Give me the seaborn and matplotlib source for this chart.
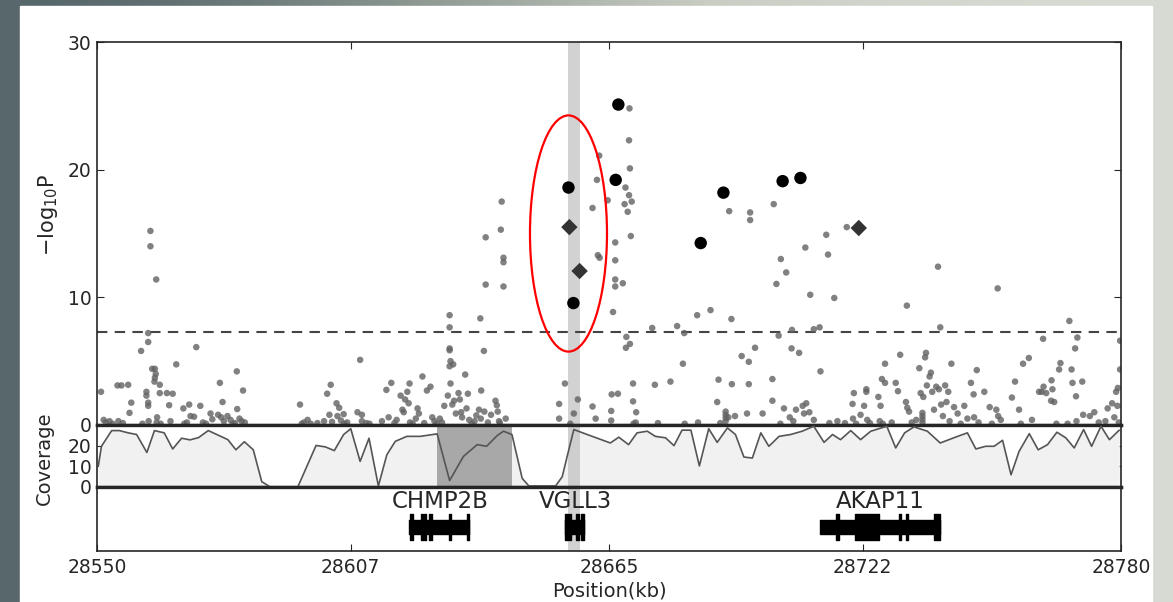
import numpy as np
import pandas as pd
import seaborn as sns
import matplotlib.pyplot as plt
from matplotlib.patches import Ellipse, Rectangle
from matplotlib.colors import LinearSegmentedColormap

# association results: position (kb) and -log10 P
snp_pos = [
    28550.9, 28551.5, 28552.0, 28552.8, 28553.5, 28554.6, 28555.5, 28554.8, 28555.8, 28557.0,
    28557.3, 28557.7, 28559.9, 28560.2, 28561.1, 28561.1, 28561.5, 28561.5, 28561.5, 28561.5,
    28561.6, 28562.0, 28562.0, 28562.4, 28563.0, 28563.2, 28563.0, 28562.9, 28563.3, 28563.4,
    28563.5, 28564.1, 28564.1, 28564.3, 28565.7, 28566.2, 28566.5, 28567.0, 28567.8, 28569.4,
    28569.6, 28570.2, 28570.7, 28571.0, 28571.8, 28572.3, 28573.2, 28573.8, 28574.5, 28575.5,
    28575.9, 28577.6, 28577.2, 28577.9, 28578.2, 28578.5, 28579.3, 28580.0, 28580.5, 28581.0,
    28581.4, 28581.5, 28582.0, 28582.8, 28582.5, 28583.2,
    28595.6, 28596.0, 28596.5, 28597.3, 28598.0, 28599.5, 28601.0, 28601.7, 28602.5, 28602.2,
    28602.8, 28603.8, 28604.4, 28604.0, 28604.8, 28605.4, 28605.6, 28606.2, 28608.5, 28609.1,
    28609.5, 28609.5, 28610.5, 28611.2,
    28614.0, 28615.0, 28615.5, 28616.1, 28616.8, 28617.3, 28618.2, 28618.6, 28618.9, 28619.2,
    28619.7, 28620.0, 28620.2, 28620.3, 28620.9, 28621.6, 28622.0, 28622.3, 28623.1, 28623.5,
    28624.1, 28624.9, 28625.3, 28625.8, 28626.3, 28627.0, 28627.5, 28628.0, 28628.8, 28629.2,
    28629.2, 28629.2, 28629.2, 28629.4, 28630.0, 28629.2, 28629.4, 28629.8, 28630.2, 28630.6,
    28631.2, 28631.5, 28631.8, 28632.0, 28632.7, 28633.3, 28633.0, 28633.6, 28634.2, 28634.8,
    28635.2, 28635.8, 28636.1, 28636.3, 28636.2, 28636.9, 28637.3, 28637.3, 28637.0, 28637.8,
    28638.5, 28639.5, 28639.8, 28640.0, 28640.3, 28640.9, 28640.7, 28641.3, 28641.3, 28641.3,
    28640.5, 28641.8,
    28653.8, 28653.8, 28655.1, 28656.3, 28657.1, 28658.0, 28661.3, 28662.0, 28661.3, 28662.3,
    28662.8, 28662.5, 28662.9, 28664.7, 28665.6, 28665.5, 28665.5, 28665.9, 28666.4, 28666.4,
    28666.4, 28666.4, 28667.0, 28668.1, 28668.5, 28668.7, 28668.8, 28668.9, 28669.2, 28669.5,
    28669.5, 28669.6, 28669.7, 28669.7, 28669.9, 28670.4, 28670.1, 28670.4, 28671.1, 28670.5,
    28671.0,
    28674.7, 28675.3, 28676.0, 28678.8, 28680.3, 28681.6, 28681.9, 28682.0, 28684.8, 28685.0,
    28687.8, 28689.6, 28689.3, 28690.0, 28691.2, 28691.2, 28691.2, 28691.2, 28691.8, 28692.0,
    28692.5, 28692.6, 28693.3, 28694.8, 28696.0, 28696.4, 28696.4, 28696.7, 28696.7, 28697.8,
    28699.5, 28701.7, 28701.7, 28702.0, 28702.6, 28703.1, 28703.6, 28704.8, 28703.5, 28704.3,
    28706.0, 28706.1, 28707.7, 28705.6, 28706.4, 28707.0, 28708.5, 28709.1, 28708.8, 28709.3,
    28710.2, 28710.0, 28711.0, 28711.0, 28712.3, 28712.5, 28713.8, 28714.2, 28714.5, 28715.6,
    28716.3, 28718.0, 28718.4, 28719.7, 28720.0, 28719.8, 28720.5, 28722.8, 28722.8, 28722.3,
    28721.5,
    28723.0, 28723.6, 28725.5, 28726.0, 28726.3, 28727.0, 28727.0, 28725.8, 28726.5, 28728.5,
    28729.4, 28729.9, 28730.4, 28731.7, 28731.9, 28732.0, 28732.4, 28733.0, 28734.0, 28734.7,
    28735.0, 28735.4, 28735.4, 28735.4, 28735.4, 28735.6, 28736.0, 28736.2, 28736.4, 28737.0,
    28737.3, 28737.6, 28738.0, 28738.5, 28738.9, 28739.1, 28739.4, 28739.6, 28740.0, 28740.5,
    28740.8, 28741.2, 28741.9, 28741.5, 28742.5, 28743.3, 28744.0, 28744.8, 28745.5, 28746.3,
    28746.9, 28747.0, 28747.6, 28748.0, 28749.3, 28750.5, 28751.0, 28752.3, 28752.0, 28752.4,
    28753.0, 28755.5, 28756.2, 28757.1, 28758.0, 28759.3, 28757.5, 28760.0, 28761.6, 28762.2,
    28762.5, 28762.6, 28763.2, 28764.3, 28764.4, 28764.6, 28765.0, 28765.5, 28766.1, 28766.4,
    28768.0, 28768.4, 28768.9, 28769.1, 28769.7, 28769.9, 28770.2, 28770.0, 28771.3, 28771.5,
    28773.0, 28774.0, 28775.0, 28776.5, 28777.0, 28778.0, 28778.5, 28778.9, 28779.3, 28779.8,
    28779.8, 28779.5, 28779.2,
]
snp_logp = [
    2.6, 0.4, 0.2, 0.3, 0.1, 3.1, 3.1, 0.3, 0.15, 3.15,
    0.95, 1.75, 5.8, 0.1, 2.6, 2.3, 7.2, 6.5, 1.75, 1.5,
    0.3, 15.2, 14.0, 4.4, 4.4, 4.0, 3.7, 3.4, 11.4, 0.2,
    0.6, 3.15, 2.5, 0.1, 2.5, 1.55, 0.3, 2.45, 4.75, 1.3,
    0.1, 0.2, 1.6, 0.7, 0.65, 6.1, 1.5, 0.2, 0.1, 0.9,
    0.45, 3.3, 0.8, 0.6, 1.8, 0.3, 0.7, 0.4, 0.1, 0.15,
    4.2, 1.25, 0.5, 2.7, 0.3, 0.2,
    1.6, 0.1, 0.2, 0.4, 0.1, 0.15, 0.3, 2.45, 3.15, 0.8,
    0.25, 1.7, 1.35, 0.7, 0.35, 0.85, 0.1, 0.2, 1.0, 5.1,
    0.8, 0.3, 0.15, 0.1,
    0.3, 2.75, 0.6, 3.3, 0.15, 0.4, 2.3, 1.2, 1.0, 2.0,
    2.6, 1.7, 3.25, 0.2, 0.1, 0.5, 1.3, 0.9, 3.8, 0.15,
    2.7, 3.0, 0.6, 0.3, 0.1, 0.5, 0.2, 1.5, 2.3, 8.6,
    7.65, 6.0, 5.85, 5.0, 4.75, 4.6, 3.25, 1.6, 1.9, 0.9,
    2.5, 2.0, 1.0, 0.6, 3.95, 2.45, 1.3, 0.4, 0.1, 0.3,
    0.75, 1.2, 8.35, 2.7, 0.5, 5.8, 14.7, 11.0, 1.05, 0.2,
    0.8, 1.9, 1.55, 1.05, 0.3, 17.5, 15.3, 13.1, 12.75, 10.85,
    0.15, 0.5,
    1.65, 0.5, 3.25, 0.1, 0.9, 2.0, 1.45, 0.5, 17.0, 19.2,
    21.1, 13.3, 13.1, 17.6, 2.4, 1.1, 0.35, 8.85, 14.3, 12.9,
    11.4, 10.85, 2.45, 11.1, 17.3, 18.6, 6.05, 6.9, 16.7, 18.0,
    22.3, 24.8, 20.1, 6.35, 14.8, 3.25, 17.5, 1.85, 1.0, 0.1,
    0.2,
    7.6, 3.15, 0.15, 3.4, 7.75, 4.8, 7.2, 0.1, 8.6, 0.2,
    9.0, 3.55, 1.8, 0.15, 0.3, 0.55, 0.8, 1.05, 0.6, 16.75,
    8.3, 3.2, 0.7, 5.4, 0.9, 4.95, 3.2, 16.65, 16.05, 6.05,
    0.9, 3.6, 1.9, 17.3, 11.05, 7.0, 13.0, 11.95, 0.1, 1.3,
    6.0, 7.45, 5.65, 0.6, 0.3, 1.2, 1.5, 13.9, 0.9, 1.7,
    10.2, 1.0, 7.5, 0.4, 7.65, 4.2, 14.9, 13.35, 0.15, 9.95,
    0.3, 0.15, 15.5, 1.65, 2.5, 0.5, 0.1, 2.8, 2.6, 1.5,
    0.8,
    0.4, 0.15, 2.2, 1.5, 3.6, 3.3, 4.8, 0.3, 0.1, 0.2,
    3.3, 2.65, 5.5, 1.8, 9.35, 1.35, 1.05, 0.2, 0.4, 4.45,
    2.5, 0.2, 0.45, 0.7, 0.95, 2.2, 5.3, 5.65, 3.1, 3.8,
    4.1, 2.6, 1.2, 3.0, 12.4, 2.8, 7.65, 1.6, 0.7, 3.1,
    1.8, 2.6, 4.8, 0.3, 1.4, 0.9, 0.1, 1.5, 0.5, 3.3,
    2.4, 0.6, 4.3, 0.2, 2.6, 1.4, 0.1, 10.7, 1.2, 0.7,
    0.4, 2.15, 3.4, 1.2, 4.8, 5.25, 0.1, 0.4, 2.6, 2.6,
    6.75, 3.0, 2.5, 1.9, 3.5, 2.8, 1.8, 0.1, 4.35, 4.85,
    0.1, 8.15, 4.35, 3.3, 6.0, 2.25, 6.85, 0.3, 3.4, 0.8,
    0.7, 1.0, 0.2, 0.3, 1.3, 1.7, 0.6, 2.6, 2.9, 4.35,
    6.6, 0.2, 1.5,
]

# highlighted variants
top_pos = [28655.9, 28657.0, 28667.1, 28666.5, 28685.6, 28690.7, 28704.0, 28708.0]
top_logp = [18.6, 9.55, 25.1, 19.2, 14.25, 18.2, 19.1, 19.35]
diamond_pos = [28656.1, 28658.4, 28721.1]
diamond_logp = [15.5, 12.06, 15.43]

# read coverage
cov_pos = [
    28550.3, 28551.0, 28553.3, 28555.0, 28557.0, 28558.9, 28561.2, 28562.9, 28565.1, 28567.0,
    28569.0, 28570.9, 28572.8, 28575.0, 28577.3, 28579.4, 28581.2, 28583.1, 28585.1, 28587.0,
    28588.1, 28588.9, 28595.1, 28599.2, 28601.3, 28603.3, 28605.4, 28607.0, 28609.1, 28611.1,
    28613.2, 28615.1, 28617.0, 28619.6, 28622.6, 28626.4, 28629.2, 28632.3, 28635.4, 28637.5,
    28639.9, 28641.3, 28643.2, 28645.5, 28647.0, 28653.0, 28654.5, 28655.6, 28657.1, 28660.1,
    28665.3, 28667.2, 28669.4, 28671.3, 28673.6, 28675.4, 28677.7, 28679.6, 28681.4, 28683.4,
    28685.3, 28687.4, 28689.3, 28691.6, 28693.4, 28695.3, 28697.2, 28699.1, 28700.9, 28703.2,
    28705.8, 28708.4, 28711.0, 28713.3, 28715.2, 28717.0, 28719.3, 28721.5, 28723.8, 28727.4,
    28729.4, 28731.4, 28733.5, 28736.5, 28739.4, 28743.3, 28745.5, 28747.4, 28749.6, 28751.5,
    28753.4, 28755.3, 28757.1, 28759.4, 28761.4, 28763.5, 28765.6, 28767.6, 28769.5, 28771.6,
    28773.4, 28775.5, 28777.4, 28779.6,
]
cov_val = [
    10.2, 19.7, 27.3, 27.3, 26.2, 25.4, 16.7, 27.3, 26.2, 18.4,
    23.6, 22.8, 23.9, 27.3, 25.0, 22.9, 18.0, 21.9, 18.0, 2.6,
    1.1, 0.0, 0.0, 20.1, 19.4, 17.6, 25.4, 28.2, 12.4, 23.6,
    0.5, 15.6, 22.1, 24.5, 24.5, 25.7, 3.1, 14.8, 20.5, 19.7,
    24.9, 27.0, 25.4, 4.2, 0.5, 0.5, 5.0, 14.8, 27.8, 25.4,
    21.3, 24.1, 20.5, 26.2, 27.0, 24.5, 23.8, 20.0, 27.5, 27.5,
    10.2, 28.2, 21.6, 28.6, 25.4, 14.5, 14.0, 26.2, 19.7, 24.5,
    25.4, 27.0, 29.4, 21.6, 25.4, 22.9, 27.3, 22.9, 27.0, 29.4,
    18.9, 26.2, 29.1, 27.0, 21.3, 24.5, 26.2, 18.4, 19.7, 19.7,
    22.6, 5.9, 17.2, 25.8, 18.0, 20.5, 26.5, 23.8, 18.9, 27.8,
    19.7, 29.4, 22.9, 27.5,
]

# genes
gene_names = ['CHMP2B', 'VGLL3', 'AKAP11']
gene_start = [28620.1, 28655.2, 28712.5]
gene_end = [28633.6, 28659.3, 28739.4]
gene_label_pos = [28627.1, 28657.5, 28726.0]
gene_exons = [
    [(28620.3, 0.6), (28622.7, 0.6), (28623.5, 0.5), (28624.6, 0.6), (28629.0, 0.4), (28633.1, 0.5)],
    [(28655.2, 0.7), (28656.0, 0.5), (28657.6, 0.6), (28658.7, 0.6)],
    [(28716.0, 0.6), (28720.2, 5.4), (28730.1, 0.5), (28731.6, 0.5), (28737.9, 1.4)],
]

highlight_snp = (28655.7, 28658.4)
low_cov_region = (28626.4, 28643.3)
gwas_line = 7.3
xticks = [28550, 28607, 28665, 28722, 28780]

sns.set_style('ticks')
plt.rcParams['font.family'] = ['DejaVu Sans']
plt.rcParams['xtick.direction'] = 'in'
plt.rcParams['ytick.direction'] = 'in'

fig = plt.figure(figsize=(11.73, 6.02), dpi=100)

# background behind the white card
bg = fig.add_axes([0, 0, 1, 1], zorder=-10)
bg_cmap = LinearSegmentedColormap.from_list('bg', ['#55666a', '#8f9a93', '#c9cdc4', '#d8dbd3'])
bg.imshow(np.array([[0.0, 0.35, 0.7, 1.0]]), cmap=bg_cmap, aspect='auto', interpolation='bicubic')
bg.axis('off')
fig.add_artist(Rectangle((20 / 1173, 0), (1152 - 20) / 1173, 1 - 6 / 602,
                         transform=fig.transFigure, color='white', zorder=-5))

L = 97 / 1173
W = (1121 - 97) / 1173
ax1 = fig.add_axes([L, 1 - 425 / 602, W, (425 - 42) / 602])
ax2 = fig.add_axes([L, 1 - 487 / 602, W, (487 - 425) / 602])
ax3 = fig.add_axes([L, 1 - 551 / 602, W, (551 - 487) / 602])

df = pd.DataFrame({'pos': snp_pos, 'logp': snp_logp})
top = pd.DataFrame({'pos': top_pos, 'logp': top_logp})
dia = pd.DataFrame({'pos': diamond_pos, 'logp': diamond_logp})

# --- association panel
ax1.axvspan(*highlight_snp, color='#d2d2d2', zorder=0, lw=0)
ax1.axhline(gwas_line, color='#444444', lw=1.5, ls=(0, (5, 3.5)), zorder=1)
sns.scatterplot(data=df, x='pos', y='logp', ax=ax1, s=22, color='#626262',
                alpha=0.8, edgecolor='none', zorder=2)
sns.scatterplot(data=top, x='pos', y='logp', ax=ax1, s=80, color='black',
                edgecolor='none', zorder=3)
sns.scatterplot(data=dia, x='pos', y='logp', ax=ax1, s=70, marker='D', color='#333333',
                edgecolor='none', zorder=3)
ax1.add_patch(Ellipse((28655.9, 15.0), width=17.3, height=18.5, fill=False,
                      ec='red', lw=1.6, zorder=4))
ax1.set_xlim(28550, 28780)
ax1.set_ylim(0, 30)
ax1.set_yticks([0, 10, 20, 30])
ax1.set_xticks(xticks)
ax1.tick_params(axis='x', bottom=False, top=True, labelbottom=False, length=5)
ax1.tick_params(axis='y', left=True, right=True, length=5, labelsize=13.5, pad=4)
ax1.set_xlabel('')
ax1.set_ylabel('\u2212log$_{10}$P', fontsize=15)
ax1.yaxis.set_label_coords(-0.036, 0.55)

# --- coverage panel
ax2.fill_between(cov_pos, cov_val, color='#f1f1f1', lw=0, zorder=1)
ax2.axvspan(*low_cov_region, color='#a8a8a8', lw=0, zorder=2)
ax2.axvspan(*highlight_snp, color='#c8c8c8', alpha=0.85, lw=0, zorder=2)
sns.lineplot(x=cov_pos, y=cov_val, ax=ax2, color='#555555', lw=1.2, zorder=3)
ax2.set_xlim(28550, 28780)
ax2.set_ylim(0, 30)
ax2.set_yticks([0, 10, 20])
ax2.set_xticks([])
ax2.tick_params(axis='y', left=True, right=True, length=5, labelsize=13.5, pad=4)
ax2.set_ylabel('Coverage', fontsize=14)
ax2.yaxis.set_label_coords(-0.042, 0.47)

# --- gene panel
ax3.axvspan(*highlight_snp, color='#d2d2d2', lw=0, zorder=0)
for name, s, e, lp, ex in zip(gene_names, gene_start, gene_end, gene_label_pos, gene_exons):
    ax3.broken_barh([(s, e - s)], (0.26, 0.23), color='black', zorder=2)
    ax3.broken_barh(ex, (0.17, 0.41), color='black', zorder=2)
    ax3.text(lp, 0.78, name, ha='center', va='center', fontsize=16.5, zorder=3)
ax3.set_xlim(28550, 28780)
ax3.set_ylim(0, 1)
ax3.set_yticks([])
ax3.set_xticks(xticks)
ax3.set_xticklabels([str(t) for t in xticks])
ax3.tick_params(axis='x', bottom=True, top=False, length=5, labelsize=13.5, pad=5)
ax3.set_xlabel('Position(kb)', fontsize=14, labelpad=3)

for ax in (ax1, ax2, ax3):
    ax.set_facecolor('white')
    for side in ('left', 'right'):
        ax.spines[side].set_visible(True)
        ax.spines[side].set_linewidth(1.2)
    for side in ('top', 'bottom'):
        ax.spines[side].set_visible(True)
        ax.spines[side].set_linewidth(2.4)
ax1.spines['top'].set_linewidth(1.2)
ax3.spines['bottom'].set_linewidth(1.2)

fig.savefig('out.png', dpi=100)
